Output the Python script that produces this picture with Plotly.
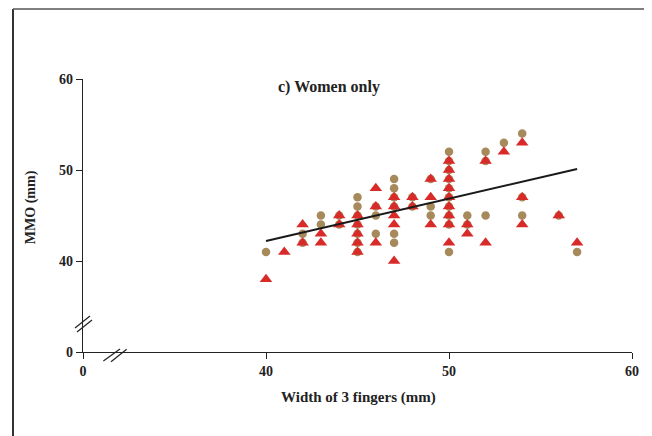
import plotly.graph_objects as go

# Brown circles
circ_x = [40, 42, 42, 43, 43, 44, 44,
          45, 45, 45, 45, 45, 45, 45,
          46, 46, 46,
          47, 47, 47, 47, 47, 47,
          48, 48,
          49, 49, 49,
          50, 50, 50, 50, 50, 50, 50, 50, 50, 50,
          51, 51,
          52, 52, 52,
          53,
          54, 54, 54,
          56, 57]
circ_y = [41, 43, 42, 45, 44, 44, 45,
          47, 46, 45, 44, 43, 42, 41,
          46, 45, 43,
          49, 48, 47, 46, 43, 42,
          47, 46,
          49, 46, 45,
          52, 51, 50, 49, 48, 47, 46, 45, 44, 41,
          45, 44,
          52, 51, 45,
          53,
          54, 47, 45,
          45, 41]

# Red triangles
tri_x = [40, 41, 42, 42, 43, 43, 44, 44,
         45, 45, 45, 45, 45,
         46, 46, 46,
         47, 47, 47, 47, 47,
         48, 48,
         49, 49, 49,
         50, 50, 50, 50, 50, 50, 50, 50, 50,
         51, 51,
         52, 52,
         53,
         54, 54, 54,
         56, 57]
tri_y = [38, 41, 44, 42, 43, 42, 45, 44,
         45, 44, 43, 42, 41,
         48, 46, 42,
         47, 46, 45, 44, 40,
         47, 46,
         49, 47, 44,
         51, 50, 49, 48, 47, 46, 45, 44, 42,
         44, 43,
         51, 42,
         52,
         53, 47, 44,
         45, 42]

trend_x = [40, 57]
trend_y = [42.2, 50.1]

tick_vals = [30, 40, 50, 60]
tick_text = ["0", "40", "50", "60"]

FONT = "Liberation Serif"
BROWN = "#A68A5C"
RED = "#D92A2A"
TXT = "#222222"

fig = go.Figure()
fig.add_trace(go.Scatter(x=circ_x, y=circ_y, mode="markers",
                         marker=dict(symbol="circle", size=8.5, color=BROWN),
                         showlegend=False, hoverinfo="skip"))
fig.add_trace(go.Scatter(x=tri_x, y=tri_y, mode="markers",
                         marker=dict(symbol="triangle-up", size=11, color=RED),
                         showlegend=False, hoverinfo="skip"))
fig.add_trace(go.Scatter(x=trend_x, y=trend_y, mode="lines",
                         line=dict(color="#1a1a1a", width=2),
                         showlegend=False, hoverinfo="skip"))

tickfont = dict(family=FONT, size=14, color=TXT, weight="bold")
axis_common = dict(showgrid=False, zeroline=False, showline=True,
                   linecolor=TXT, linewidth=1.2,
                   ticks="outside", ticklen=6, tickcolor=TXT, tickwidth=1.2,
                   tickvals=tick_vals, ticktext=tick_text,
                   tickfont=tickfont)

shapes = []
# outer frame (paper coords relative to plot area)
shapes.append(dict(type="line", xref="paper", yref="paper", x0=-0.1275, x1=-0.1275, y0=1.2564, y1=-0.4,
                   line=dict(color="#333", width=2)))
shapes.append(dict(type="line", xref="paper", yref="paper", x0=-0.1275, x1=1.0346, y0=1.2564, y1=1.2564,
                   line=dict(color="#555", width=1.6)))
shapes.append(dict(type="line", xref="paper", yref="paper", x0=1.0346, x1=1.0346, y0=1.2564, y1=-0.4,
                   line=dict(color="#aaa", width=1)))
# y-axis break marks
for (xa, ya, xb, yb) in [(-0.0146, 0.0879, 0.0128, 0.1319), (-0.0109, 0.0733, 0.0164, 0.1172)]:
    shapes.append(dict(type="line", xref="paper", yref="paper", x0=xa, y0=ya, x1=xb, y1=yb,
                       line=dict(color=TXT, width=1.2)))
# x-axis break marks
for (xa, ya, xb, yb) in [(0.0371, -0.033, 0.0674, 0.011), (0.0510, -0.0355, 0.0795, 0.0098)]:
    shapes.append(dict(type="line", xref="paper", yref="paper", x0=xa, y0=ya, x1=xb, y1=yb,
                       line=dict(color=TXT, width=1.2)))

annotations = [
    dict(text="<b>c) Women only</b>", xref="paper", yref="paper", x=0.448, y=0.97,
         showarrow=False, font=dict(family=FONT, size=16, color=TXT), xanchor="center", yanchor="middle"),
    dict(text="<b>MMO (mm)</b>", xref="paper", yref="paper", x=-0.095, y=0.53, textangle=-90,
         showarrow=False, font=dict(family=FONT, size=14, color=TXT), xanchor="center", yanchor="middle"),
    dict(text="<b>Width of 3 fingers (mm)</b>", xref="paper", yref="paper", x=0.501, y=-0.168,
         showarrow=False, font=dict(family=FONT, size=15, color=TXT), xanchor="center", yanchor="middle"),
]

fig.update_layout(
    width=644, height=428,
    margin=dict(l=75, r=20, t=71, b=84),
    paper_bgcolor="white", plot_bgcolor="white",
    xaxis=dict(range=[30, 60], **axis_common),
    yaxis=dict(range=[30, 60], **axis_common),
    shapes=shapes, annotations=annotations,
    font=dict(family=FONT),
)

fig.write_html("out.html")
